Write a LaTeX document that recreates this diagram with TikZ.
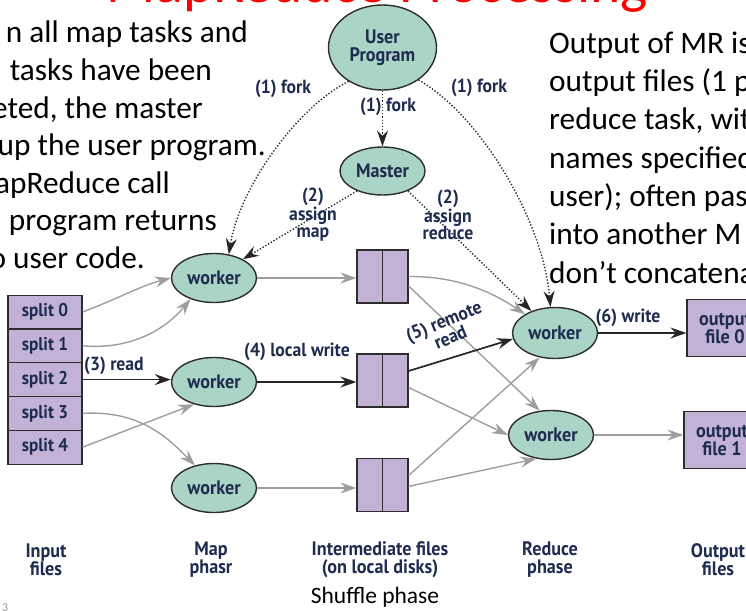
\documentclass[tikz,border=0pt]{standalone}
\usepackage{fontspec}
\setmainfont{Carlito}
\newfontfamily\diagfamily[FakeStretch=0.93]{PT Sans}
\usetikzlibrary{shapes.geometric,arrows.meta}

\definecolor{nodefill}{RGB}{170,212,198}
\definecolor{filefill}{RGB}{193,178,214}
\definecolor{edgecol}{RGB}{45,45,45}
\definecolor{flowgray}{RGB}{158,158,160}
\definecolor{inkblue}{RGB}{30,44,80}
\definecolor{titlered}{RGB}{255,0,0}

\newcommand\diagfont{\diagfamily\bfseries\fontsize{19.5}{18}\selectfont}
\newcommand\tagfont{\diagfamily\bfseries\fontsize{19}{17.5}\selectfont}
\newcommand\splitfont{\diagfamily\bfseries\fontsize{18.5}{18}\selectfont}
\newcommand\slidefont{\fontsize{31.3}{38}\selectfont}

\tikzset{
  proc/.style={ellipse, draw=edgecol, line width=1.4pt, fill=nodefill,
    minimum width=85pt, minimum height=49pt, inner sep=0pt,
    font=\diagfont, text=inkblue, align=center},
  split/.style={rectangle, draw=edgecol, line width=1.2pt, fill=filefill,
    minimum width=74pt, minimum height=33.8pt, inner sep=0pt,
    font=\splitfont, text=inkblue},
  disk/.style={rectangle, draw=edgecol, line width=1.2pt, fill=filefill,
    minimum width=51pt, minimum height=53pt, inner sep=0pt},
  outfile/.style={rectangle, draw=edgecol, line width=1.2pt, fill=filefill,
    minimum width=76pt, minimum height=57pt, inner sep=0pt,
    font=\diagfont, text=inkblue, align=center},
  tip/.style={-{Stealth[length=16pt,width=11pt,inset=5.5pt]}},
  grayflow/.style={draw=flowgray, line width=1.4pt, tip, color=flowgray},
  blackflow/.style={draw=black!85, line width=1.7pt, tip, color=black!85},
  control/.style={draw=black!85, line width=1.4pt, dash pattern=on 1.3pt off 1.9pt,
    tip, color=black!85},
  tag/.style={font=\tagfont, text=inkblue, align=center, inner sep=0pt},
  caption/.style={font=\diagfont, text=inkblue, align=center, inner sep=0pt},
  slide/.style={font=\slidefont, text=black, inner sep=0pt},
  boxline/.style={draw=edgecol, line width=1.2pt}
}

\begin{document}
\begin{tikzpicture}[x=1pt,y=-1pt]
\useasboundingbox (0,0) rectangle (746,610);
\clip (0,0) rectangle (746,610);

% slide title
\node[font=\fontsize{57.7}{60}\selectfont, text=titlered, inner sep=0pt, anchor=base west]
  (title) at (106,3) {MapReduce Processing};

% slide text, left column
\node[slide, anchor=base east] (l1) at (248,43)  {n all map tasks and};
\node[slide, anchor=base east] (l2) at (212,80.5) {tasks have been};
\node[slide, anchor=base east] (l3) at (203,118) {eted, the master};
\node[slide, anchor=base east] (l4) at (266,155.5) {up the user program.};
\node[slide, anchor=base east] (l5) at (170,193) {apReduce call};
\node[slide, anchor=base east] (l6) at (217,230.5) {program returns};
\node[slide, anchor=base east] (l7) at (145,268) {o user code.};

% slide text, right column
\node[slide, anchor=base west] (r1t) at (549,53)  {Output of MR is};
\node[slide, anchor=base west] (r2t) at (549,91)  {output files (1 p};
\node[slide, anchor=base west] (r3t) at (549,129.5) {reduce task, wit};
\node[slide, anchor=base west] (r4t) at (549,168) {names specified};
\node[slide, anchor=base west] (r5t) at (549,206) {user); often pas};
\node[slide, anchor=base west] (r6t) at (549,244.5) {into another M};
\node[slide, anchor=base west] (r7t) at (549,283) {don’t concatena};

% processes
\node[proc, minimum width=108pt, minimum height=85pt] (up) at (382.5,47.5) {User\\Program};
\node[proc, minimum height=48pt] (ma) at (382.5,171) {Master};
\node[proc] (w1) at (214,278) {worker};
\node[proc] (w2) at (214,382) {worker};
\node[proc] (w3) at (214,488) {worker};
\node[proc, minimum height=51pt] (rw1) at (555,333) {worker};
\node[proc] (rw2) at (551,435) {worker};

% input splits
\foreach \i in {0,...,4}
  \node[split] (s\i) at (45,312+33.8*\i) {split \i};

% intermediate files
\node[disk] (d1) at (382.5,276.5) {};
\node[disk] (d2) at (382.5,380.5) {};
\node[disk] (d3) at (382.5,485) {};
\foreach \d in {d1,d2,d3}
  \draw[boxline] (\d.north) -- (\d.south);

% output files
\node[outfile] (o0) at (725,328) {output\\file 0};
\node[outfile] (o1) at (722,440) {output\\file 1};

% control flow (dotted)
\draw[control] (up.225) .. controls (300,105) and (240,185) .. (w1.58);
\draw[control] (up.south) -- (ma.north);
\draw[control] (up.-42) .. controls (480,115) and (543,220) .. (rw1.100);
\draw[control] (ma.218) -- (w1.33);
\draw[control] (ma.-38) -- (rw1.137);

% input reads
\draw[grayflow] (s0.east) .. controls (115,300) and (140,286) .. (w1.west);
\draw[grayflow] (s1.east) .. controls (130,350) and (165,330) .. (w1.222);
\draw[blackflow] (s2.east) -- (s2.east -| w2.west);
\draw[grayflow] (s3.east) .. controls (140,410) and (168,438) .. (w3.130);
\draw[grayflow] (s4.east) -- (w2.228);

% local writes
\draw[grayflow] (w1.east) -- (w1.east -| d1.west);
\draw[blackflow] (w2.east) -- (w2.east -| d2.west);
\draw[grayflow] (w3.east) -- (w3.east -| d3.west);

% remote reads
\draw[grayflow] (d1.east) .. controls (460,276) and (495,294) .. (rw1.148);
\draw[grayflow] (d1.-20) -- (rw2.115);
\draw[blackflow] (d2.20) -- (rw1.188);
\draw[grayflow] (d2.-15) -- (rw2.west);
\draw[grayflow] (d3.20) -- (rw1.238);
\draw[grayflow] (d3.-3) -- (rw2.238);

% final writes
\draw[blackflow] (rw1.east) -- (rw1.east -| o0.west);
\draw[grayflow] (rw2.east) -- (rw2.east -| o1.west);

% step labels
\node[tag] (f1) at (283,89) {(1) fork};
\node[tag] (f2) at (388,107) {(1) fork};
\node[tag] (f3) at (479,88) {(1) fork};
\node[tag] (am) at (313,215) {(2)\\assign\\map};
\node[tag] (ar) at (448,215) {(2)\\assign\\reduce};
\node[tag] (rd) at (114,366) {(3) read};
\node[tag] (lw) at (297,352) {(4) local write};
\node[tag, rotate=22] (rr) at (447,329) {(5) remote\\read};
\node[tag] (wr) at (628,318) {(6) write};

% phase captions
\node[caption] (c1) at (46,560) {Input\\files};
\node[caption] (c2) at (211,560) {Map\\phasr};
\node[caption] (c3) at (380,560) {Intermediate files\\(on local disks)};
\node[caption] (c4) at (550,560) {Reduce\\phase};
\node[caption] (c5) at (718,560) {Output\\files};

\node[font=\fontsize{23.5}{26}\selectfont, inner sep=0pt, anchor=base] (sh) at (375,603) {Shuffle phase};
\node[font=\fontsize{12}{12}\selectfont, text=black!40, inner sep=0pt, anchor=base west] (pg) at (2,611) {3};
\end{tikzpicture}
\end{document}
